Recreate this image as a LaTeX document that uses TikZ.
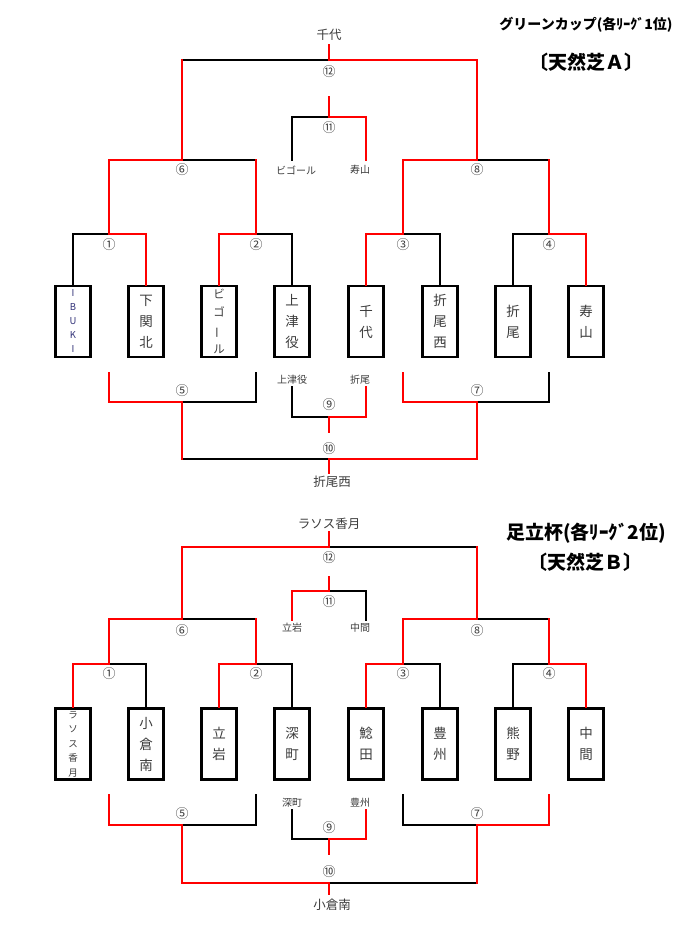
\documentclass[tikz,border=0pt]{standalone}
\usepackage{fontspec}
\setmainfont{Noto Sans CJK JP}
\usepackage{graphicx}
\definecolor{txt}{RGB}{60,60,60}
\definecolor{ibk}{RGB}{50,50,120}
\begin{document}
\begin{tikzpicture}[x=1pt,y=-1pt,
 bk/.style={draw=black,line width=1.6pt,line cap=rect},
 rd/.style={draw=red,line width=1.6pt,line cap=rect},
 team/.style={draw=black,line width=2.3pt,minimum width=35pt,minimum height=71pt,inner sep=0pt,align=center,text=txt,font=\fontsize{13.5}{21}\selectfont},
 lbl/.style={inner sep=0pt,text=txt,font=\fontsize{10}{12}\selectfont},
 win/.style={inner sep=0pt,text=txt,font=\fontsize{12.5}{14}\selectfont},
 num/.style={inner sep=0pt,text=txt,font=\fontsize{13}{14}\selectfont},
 ttl/.style={inner sep=0pt,text=black,font=\bfseries\fontsize{14}{16}\selectfont},
 ttlb/.style={inner sep=0pt,text=black,font=\bfseries\fontsize{19}{21}\selectfont},
]
\path[fill=white,use as bounding box] (0,0) rectangle (700,925);

% ================= Section A =================
\node[ttl]  (A-title) at (586,25) {グリーンカップ(各ﾘｰｸﾞ1位)};
\node[ttlb] (A-field) at (586,62) {〔天然芝Ａ〕};

\node[team,text=ibk,font=\fontsize{9.5}{14}\selectfont] (A1) at (73,321.5) {I\\B\\U\\K\\I};
\node[team] (A2) at (146,321.5) {下\\関\\北};
\node[team,font=\fontsize{11.5}{18.3}\selectfont] (A3) at (219,321.5) {ビ\\ゴ\\\rotatebox[origin=c]{90}{ー}\\ル};
\node[team] (A4) at (292,321.5) {上\\津\\役};
\node[team] (A5) at (366,321.5) {千\\代};
\node[team] (A6) at (440,321.5) {折\\尾\\西};
\node[team] (A7) at (513,321.5) {折\\尾};
\node[team] (A8) at (586,321.5) {寿\\山};

\coordinate (A-j12) at (329,60);
\coordinate (A-c12) at (329,45);
\coordinate (A-s11) at (329,97);
\coordinate (A-j11) at (329,117);
\coordinate (A-e11L) at (292,160);
\coordinate (A-e11R) at (366,160);
\coordinate (A-j6) at (182,160);
\coordinate (A-j8) at (477,160);
\coordinate (A-j1) at (109,234);
\coordinate (A-j2) at (256,234);
\coordinate (A-j3) at (403,234);
\coordinate (A-j4) at (549,234);
\coordinate (A-t5L) at (109,373);
\coordinate (A-t5R) at (256,373);
\coordinate (A-t7L) at (403,373);
\coordinate (A-t7R) at (549,373);
\coordinate (A-j5) at (182,402);
\coordinate (A-j7) at (477,402);
\coordinate (A-t9L) at (292,387);
\coordinate (A-t9R) at (366,387);
\coordinate (A-j9) at (329,417);
\coordinate (A-s9) at (329,432);
\coordinate (A-j10) at (329,459);
\coordinate (A-s10) at (329,473);

% black
\draw[bk] (A1.north) |- (A-j1);
\draw[bk] (A4.north) |- (A-j2);
\draw[bk] (A6.north) |- (A-j3);
\draw[bk] (A7.north) |- (A-j4);
\draw[bk] (A-j2 |- A-j6) -- (A-j6);
\draw[bk] (A-j4 |- A-j8) -- (A-j8);
\draw[bk] (A-j6 |- A-j12) -- (A-j12);
\draw[bk] (A-j11) -| (A-e11L);
\draw[bk] (A-t5R) |- (A-j5);
\draw[bk] (A-t7R) |- (A-j7);
\draw[bk] (A-t9L) |- (A-j9);
\draw[bk] (A-j5 |- A-j10) -- (A-j10);
% red
\draw[rd] (A2.north) |- (A-j1);
\draw[rd] (A3.north) |- (A-j2);
\draw[rd] (A5.north) |- (A-j3);
\draw[rd] (A8.north) |- (A-j4);
\draw[rd] (A-j1) |- (A-j6);
\draw[rd] (A-j2) -- (A-j2 |- A-j6);
\draw[rd] (A-j3) |- (A-j8);
\draw[rd] (A-j4) -- (A-j4 |- A-j8);
\draw[rd] (A-j6) -- (A-j6 |- A-j12);
\draw[rd] (A-j8) |- (A-j12);
\draw[rd] (A-j12) -- (A-c12);
\draw[rd] (A-s11) -- (A-j11);
\draw[rd] (A-j11) -| (A-e11R);
\draw[rd] (A-t5L) |- (A-j5);
\draw[rd] (A-t7L) |- (A-j7);
\draw[rd] (A-t9R) |- (A-j9);
\draw[rd] (A-j9) -- (A-s9);
\draw[rd] (A-j5) -- (A-j5 |- A-j10);
\draw[rd] (A-j7) |- (A-j10);
\draw[rd] (A-j10) -- (A-s10);

\node[win] (A-w12) at (329,35) {千代};
\node[num] (A-n12) at (329,72) {⑫};
\node[num] (A-n11) at (329,128) {⑪};
\node[lbl] (A-l11L) at (296,170) {ビゴール};
\node[lbl] (A-l11R) at (360,170) {寿山};
\node[num] (A-n6) at (182,170) {⑥};
\node[num] (A-n8) at (477,170) {⑧};
\node[num] (A-n1) at (109,245) {①};
\node[num] (A-n2) at (256,245) {②};
\node[num] (A-n3) at (403,245) {③};
\node[num] (A-n4) at (549,245) {④};
\node[num] (A-n5) at (182,391) {⑤};
\node[num] (A-n7) at (477,391) {⑦};
\node[lbl] (A-l9L) at (292,380) {上津役};
\node[lbl] (A-l9R) at (360,380) {折尾};
\node[num] (A-n9) at (329,405) {⑨};
\node[num] (A-n10) at (329,449) {⑩};
\node[win] (A-w10) at (332,482) {折尾西};

% ================= Section B =================
\node[ttlb] (B-title) at (586,533) {足立杯(各ﾘｰｸﾞ2位)};
\node[ttlb] (B-field) at (585,562) {〔天然芝Ｂ〕};

\node[team,font=\fontsize{9.5}{14.5}\selectfont] (B1) at (73,744) {ラ\\ソ\\ス\\香\\月};
\node[team] (B2) at (146,744) {小\\倉\\南};
\node[team] (B3) at (219,744) {立\\岩};
\node[team] (B4) at (292,744) {深\\町};
\node[team] (B5) at (366,744) {鯰\\田};
\node[team] (B6) at (440,744) {豊\\州};
\node[team] (B7) at (513,744) {熊\\野};
\node[team] (B8) at (586,744) {中\\間};

\coordinate (B-j12) at (329,547);
\coordinate (B-c12) at (329,532);
\coordinate (B-s11) at (329,577);
\coordinate (B-j11) at (329,591);
\coordinate (B-e11L) at (292,620);
\coordinate (B-e11R) at (366,620);
\coordinate (B-j6) at (182,619);
\coordinate (B-j8) at (477,619);
\coordinate (B-j1) at (109,664);
\coordinate (B-j2) at (256,664);
\coordinate (B-j3) at (403,664);
\coordinate (B-j4) at (549,664);
\coordinate (B-t5L) at (109,795);
\coordinate (B-t5R) at (256,795);
\coordinate (B-t7L) at (403,795);
\coordinate (B-t7R) at (549,795);
\coordinate (B-j5) at (182,825);
\coordinate (B-j7) at (477,825);
\coordinate (B-t9L) at (292,810);
\coordinate (B-t9R) at (366,810);
\coordinate (B-j9) at (329,839);
\coordinate (B-s9) at (329,854);
\coordinate (B-j10) at (329,883);
\coordinate (B-s10) at (329,894);

% black
\draw[bk] (B2.north) |- (B-j1);
\draw[bk] (B4.north) |- (B-j2);
\draw[bk] (B6.north) |- (B-j3);
\draw[bk] (B7.north) |- (B-j4);
\draw[bk] (B-j2 |- B-j6) -- (B-j6);
\draw[bk] (B-j4 |- B-j8) -- (B-j8);
\draw[bk] (B-j12) -- (B-j8 |- B-j12);
\draw[bk] (B-j11) -| (B-e11R);
\draw[bk] (B-t5R) |- (B-j5);
\draw[bk] (B-t7L) |- (B-j7);
\draw[bk] (B-t9L) |- (B-j9);
\draw[bk] (B-j7 |- B-j10) -- (B-j10);
% red
\draw[rd] (B1.north) |- (B-j1);
\draw[rd] (B3.north) |- (B-j2);
\draw[rd] (B5.north) |- (B-j3);
\draw[rd] (B8.north) |- (B-j4);
\draw[rd] (B-j1) |- (B-j6);
\draw[rd] (B-j2) -- (B-j2 |- B-j6);
\draw[rd] (B-j3) |- (B-j8);
\draw[rd] (B-j4) -- (B-j4 |- B-j8);
\draw[rd] (B-j6) |- (B-j12);
\draw[rd] (B-j8) -- (B-j8 |- B-j12);
\draw[rd] (B-j12) -- (B-c12);
\draw[rd] (B-s11) -- (B-j11);
\draw[rd] (B-j11) -| (B-e11L);
\draw[rd] (B-t5L) |- (B-j5);
\draw[rd] (B-t7R) |- (B-j7);
\draw[rd] (B-t9R) |- (B-j9);
\draw[rd] (B-j9) -- (B-s9);
\draw[rd] (B-j5) |- (B-j10);
\draw[rd] (B-j7) -- (B-j7 |- B-j10);
\draw[rd] (B-j10) -- (B-s10);

\node[win] (B-w12) at (329,524) {ラソス香月};
\node[num] (B-n12) at (329,558) {⑫};
\node[num] (B-n11) at (329,602) {⑪};
\node[lbl] (B-l11L) at (292,628) {立岩};
\node[lbl] (B-l11R) at (360,628) {中間};
\node[num] (B-n6) at (182,631) {⑥};
\node[num] (B-n8) at (477,631) {⑧};
\node[num] (B-n1) at (109,674) {①};
\node[num] (B-n2) at (256,674) {②};
\node[num] (B-n3) at (403,674) {③};
\node[num] (B-n4) at (549,674) {④};
\node[num] (B-n5) at (182,814) {⑤};
\node[num] (B-n7) at (477,814) {⑦};
\node[lbl] (B-l9L) at (292,803) {深町};
\node[lbl] (B-l9R) at (360,803) {豊州};
\node[num] (B-n9) at (329,828) {⑨};
\node[num] (B-n10) at (329,872) {⑩};
\node[win] (B-w10) at (332,905) {小倉南};
\end{tikzpicture}
\end{document}
